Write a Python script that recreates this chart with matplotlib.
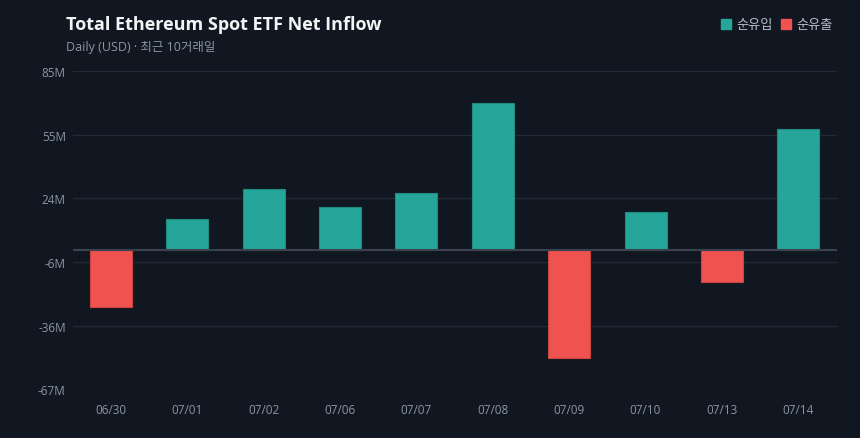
import numpy as np
import matplotlib.pyplot as plt
from matplotlib.patches import Patch

# data (USD millions)
dates = ['06/30', '07/01', '07/02', '07/06', '07/07', '07/08', '07/09', '07/10', '07/13', '07/14']
flows = [-27.3, 14.8, 29.1, 20.6, 27.0, 70.4, -51.8, 18.2, -15.3, 58.1]
ytick_labels = ['-67M', '-36M', '-6M', '24M', '55M', '85M']
y_range = (-66.6, 85.4)

bg = '#111720'
teal = '#26a69a'
red = '#ef5350'
muted = '#8b95a3'

plt.rcParams['font.family'] = ['Open Sans', 'Noto Sans CJK KR', 'DejaVu Sans']

fig = plt.figure(figsize=(8.6, 4.39), dpi=100, facecolor=bg)
ax = fig.add_axes([0.0845, 0.1116, 0.8882, 0.7233], facecolor=bg)

x = np.arange(len(dates))
colors = [teal if v >= 0 else red for v in flows]
edges = ['#1f8c82' if v >= 0 else '#c94442' for v in flows]
ax.bar(x, flows, width=0.55, color=colors, edgecolor=edges, linewidth=0.8, zorder=3)

ax.set_xlim(-0.5, len(dates) - 0.5)
ax.set_ylim(*y_range)
yt = np.linspace(y_range[0], y_range[1], len(ytick_labels))
ax.set_yticks(yt)
ax.set_yticklabels(ytick_labels)
ax.set_xticks(x)
ax.set_xticklabels(dates)
ax.tick_params(length=0, colors=muted, labelsize=8.5)
ax.tick_params(axis='y', pad=5)
ax.tick_params(axis='x', pad=10)
ax.grid(axis='y', color='#232a35', linewidth=1, zorder=0)
ax.axhline(0, color='#3a424f', linewidth=1.5, zorder=4)
for s in ax.spines.values():
    s.set_visible(False)

# title / subtitle
fig.text(66 / 860, 1 - 25 / 439, 'Total Ethereum Spot ETF Net Inflow', color='#f3f4f6',
         fontsize=13, fontweight='bold', va='center', ha='left')
fig.text(66 / 860, 1 - 47 / 439, 'Daily (USD) · 최근 10거래일', color=muted,
         fontsize=9, va='center', ha='left')

# legend
handles = [Patch(facecolor=teal, edgecolor=teal, label='순유입'),
           Patch(facecolor=red, edgecolor=red, label='순유출')]
leg = fig.legend(handles=handles, loc='center right', bbox_to_anchor=(833 / 860, 1 - 26 / 439),
                 ncol=2, frameon=False, fontsize=9.5, handlelength=0.8, handleheight=0.8,
                 handletextpad=0.4, columnspacing=0.6, borderaxespad=0, borderpad=0)
for t in leg.get_texts():
    t.set_color('#b8c0cc')

fig.savefig('out.png', dpi=100, facecolor=bg)
